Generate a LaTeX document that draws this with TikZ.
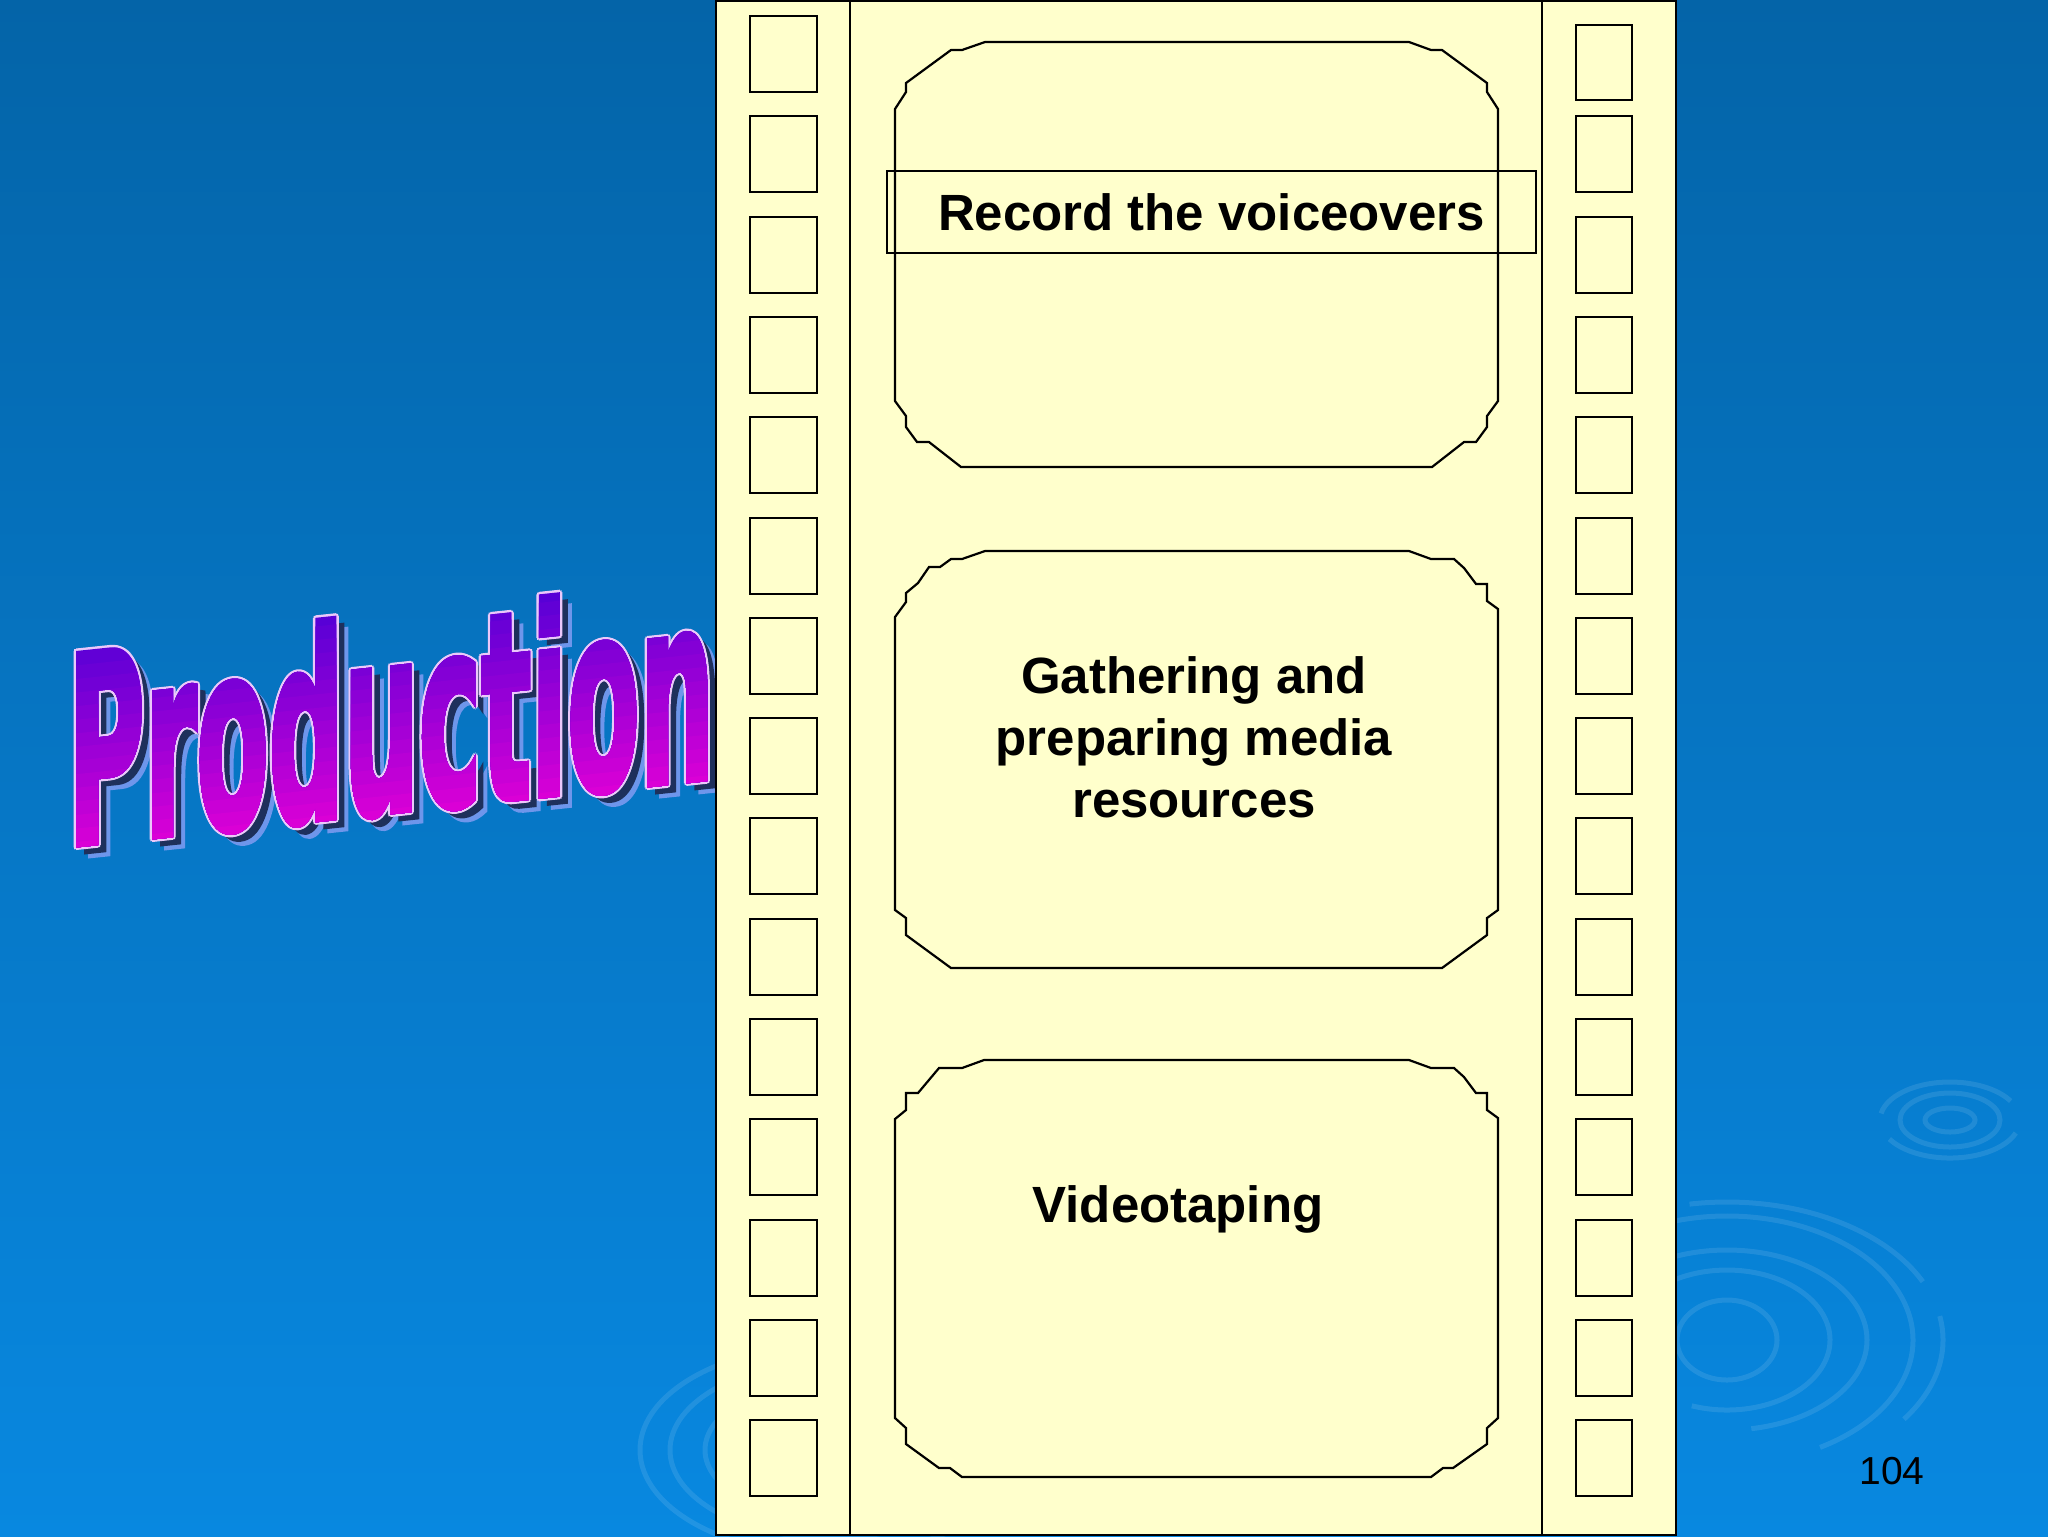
\documentclass[tikz,border=0pt]{standalone}
\usepackage{fontspec}
\setmainfont{Liberation Sans}
\newfontfamily\prodfont{DejaVu Sans}[BoldFeatures={FakeBold=2.5}]
\usetikzlibrary{calc}

\definecolor{bgtop}{RGB}{4,100,168}
\definecolor{bgbot}{RGB}{8,136,224}
\definecolor{filmyellow}{RGB}{255,255,204}
\definecolor{prodtop}{RGB}{88,0,214}
\definecolor{prodbot}{RGB}{218,0,214}
\definecolor{prodrim}{RGB}{235,200,250}
\definecolor{shadownavy}{RGB}{30,48,92}
\definecolor{shadowlite}{RGB}{110,150,235}

\tikzset{
	prodtext/.style={inner sep=3mm, font=\prodfont\bfseries\fontsize{29.9pt}{30pt}\selectfont, yslant=0.105, yscale=2.48, transform shape},
	cardtext/.style={font=\bfseries\fontsize{14.5pt}{17.6pt}\selectfont, text=black},
	hole/.style={line width=0.28mm, draw=black},
	frame/.style={line width=0.22mm, draw=black, line join=miter},
	ripple/.style={line width=0.5mm, draw=white, opacity=0.1},
}

\begin{document}
\begin{tikzpicture}[x=0.1mm, y=-0.1mm]
			%%%%% START %%%%%
			\useasboundingbox (0,0) rectangle (2048,1536);
			\shade[top color=bgtop, bottom color=bgbot] (0,0) rectangle (2048,1536);
			
			% ripples
			\draw[ripple] (1727,1340) ++(260:216 and 138) arc[start angle=260, end angle=335, x radius=216, y radius=138];
			\draw[ripple] (1727,1340) ++(350:216 and 138) arc[start angle=350, end angle=395, x radius=216, y radius=138];
			\draw[ripple] (1727,1340) ++(250:186 and 124) arc[start angle=250, end angle=420, x radius=186, y radius=124];
			\draw[ripple] (1727,1340) ++(240:140 and 90) arc[start angle=240, end angle=440, x radius=140, y radius=90];
			\draw[ripple] (1727,1340) ++(230:103 and 70) arc[start angle=230, end angle=470, x radius=103, y radius=70];
			\draw[ripple] (1727,1340) ellipse [x radius=50, y radius=40];
			\draw[ripple] (1950,1120) ++(190:70 and 38) arc[start angle=190, end angle=330, x radius=70, y radius=38];
			\draw[ripple] (1950,1120) ++(20:70 and 38) arc[start angle=20, end angle=150, x radius=70, y radius=38];
			\draw[ripple] (1950,1120) ellipse [x radius=50, y radius=27];
			\draw[ripple] (1950,1120) ellipse [x radius=25, y radius=12];
			\draw[ripple] (830,1450) ellipse [x radius=190, y radius=105];
			\draw[ripple] (830,1450) ellipse [x radius=160, y radius=88];
			\draw[ripple] (830,1450) ellipse [x radius=125, y radius=68];
			
			% word art
			\node[prodtext, text=shadowlite] (prodlite) at (403,725) {Production};
			\node[prodtext, text=shadownavy] (prodnavy) at (399,721) {Production};
			\foreach \a in {0,45,...,315}
				\node[prodtext, text=prodrim] (prodrim\a) at ($(391,714)+(\a:2.5)$) {Production};
			\foreach \i in {0,...,15} {
				\pgfmathsetmacro\ya{605+13.6*\i-105*(\i==0)}
				\pgfmathtruncatemacro\mix{100-\i*100/15}
				\begin{scope}
					\clip (40,{\ya+37}) -- (740,{\ya-37}) -- (740,900) -- (40,900) -- cycle;
					\node[prodtext, text=prodtop!\mix!prodbot] (prodband\i) at (391,714) {Production};
				\end{scope}
			}
			
			% film strip
			\draw[line width=0.25mm, fill=filmyellow] (716,1) rectangle (1676,1535);
			\draw[line width=0.2mm] (850,0) -- (850,1536);
			\draw[line width=0.2mm] (1542,0) -- (1542,1536);
			
			\draw[hole] (750,16) rectangle (817,92);
			\draw[hole] (750,116) rectangle (817,192);
			\draw[hole] (750,217) rectangle (817,293);
			\draw[hole] (750,317) rectangle (817,393);
			\draw[hole] (750,417) rectangle (817,493);
			\draw[hole] (750,518) rectangle (817,594);
			\draw[hole] (750,618) rectangle (817,694);
			\draw[hole] (750,718) rectangle (817,794);
			\draw[hole] (750,818) rectangle (817,894);
			\draw[hole] (750,919) rectangle (817,995);
			\draw[hole] (750,1019) rectangle (817,1095);
			\draw[hole] (750,1119) rectangle (817,1195);
			\draw[hole] (750,1220) rectangle (817,1296);
			\draw[hole] (750,1320) rectangle (817,1396);
			\draw[hole] (750,1420) rectangle (817,1496);
			
			\draw[hole] (1576,25) rectangle (1632,100);
			\draw[hole] (1576,116) rectangle (1632,192);
			\draw[hole] (1576,217) rectangle (1632,293);
			\draw[hole] (1576,317) rectangle (1632,393);
			\draw[hole] (1576,417) rectangle (1632,493);
			\draw[hole] (1576,518) rectangle (1632,594);
			\draw[hole] (1576,618) rectangle (1632,694);
			\draw[hole] (1576,718) rectangle (1632,794);
			\draw[hole] (1576,818) rectangle (1632,894);
			\draw[hole] (1576,919) rectangle (1632,995);
			\draw[hole] (1576,1019) rectangle (1632,1095);
			\draw[hole] (1576,1119) rectangle (1632,1195);
			\draw[hole] (1576,1220) rectangle (1632,1296);
			\draw[hole] (1576,1320) rectangle (1632,1396);
			\draw[hole] (1576,1420) rectangle (1632,1496);
			
			% frames
			\draw[frame] (985,42) -- (1409,42) -- (1431,50) -- (1442,50) -- (1487,83) -- (1487,92) -- (1498,109) -- (1498,401) -- (1487,416) -- (1487,427) -- (1476,442) -- (1464,442) -- (1432,467) -- (961,467) -- (929,442) -- (917,442) -- (906,427) -- (906,416) -- (895,401) -- (895,109) -- (906,92) -- (906,83) -- (951,50) -- (962,50) -- cycle;
			\draw[frame] (985,551) -- (1409,551) -- (1431,559) -- (1454,559) -- (1464,568) -- (1476,584) -- (1487,584) -- (1487,601) -- (1498,609) -- (1498,910) -- (1487,918) -- (1487,935) -- (1442,968) -- (951,968) -- (906,935) -- (906,918) -- (895,910) -- (895,617) -- (906,602) -- (906,593) -- (918,583) -- (929,567) -- (940,567) -- (951,559) -- (962,559) -- cycle;
			\draw[frame] (984,1060) -- (1409,1060) -- (1431,1068) -- (1454,1068) -- (1464,1077) -- (1476,1093) -- (1487,1093) -- (1487,1110) -- (1498,1118) -- (1498,1418) -- (1487,1428) -- (1487,1444) -- (1453,1468) -- (1443,1468) -- (1431,1477) -- (962,1477) -- (950,1468) -- (939,1468) -- (906,1444) -- (906,1428) -- (895,1418) -- (895,1119) -- (906,1110) -- (906,1093) -- (918,1093) -- (939,1068) -- (962,1068) -- cycle;
			
			% labels
			\node[cardtext, draw, line width=0.15mm, minimum width=64.9mm, minimum height=8.2mm, inner sep=0] (voice) at (1211.5,212) {Record the voiceovers};
			\node[cardtext, align=center] (media) at (1194,737) {Gathering and\\preparing media\\resources};
			\node[cardtext, anchor=base] (video) at (1178,1222) {Videotaping};
			\node[anchor=base, font=\fontsize{11.1pt}{13pt}\selectfont] (pagenum) at (1892,1484) {104};
			
			%%%%% END %%%%%
\end{tikzpicture}
\end{document}
